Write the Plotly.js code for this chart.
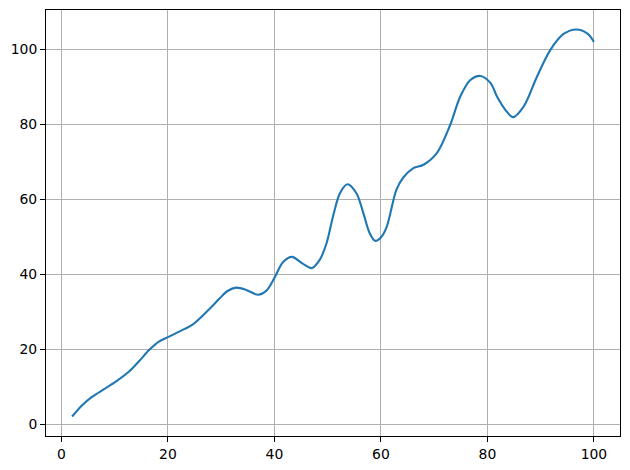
<!DOCTYPE html>
<html>
<head>
<meta charset="utf-8">
<script src="https://cdn.plot.ly/plotly-3.0.1.min.js"></script>
<style>html,body{margin:0;padding:0;background:#fff;}#chart{width:630px;height:470px;}</style>
</head>
<body>
<div id="chart"></div>
<script>
const xValues = [2, 3.8, 5.8, 8, 10.2, 12.7, 14.6, 16.5, 18.3, 20, 22.3, 24.7, 27.8, 29.7, 31.2, 32.8, 34.7, 36.9, 38.5, 40, 41.6, 43.3, 45.3, 47.0, 48.5, 49.8, 51.0, 52.3, 53.7, 55.4, 56.7, 57.9, 58.9, 60.0, 61.1, 62.9, 64.2, 66.1, 68.0, 70.5, 73.0, 74.9, 76.8, 78.7, 80.6, 81.8, 83.4, 84.8, 86.8, 89.3, 91.8, 94.3, 96.7, 98.8, 100];
const yValues = [2.0, 4.9, 7.3, 9.3, 11.3, 14.0, 16.8, 19.8, 22.0, 23.2, 24.8, 26.6, 30.7, 33.5, 35.5, 36.4, 35.8, 34.5, 35.6, 39.0, 43.2, 44.6, 42.8, 41.6, 43.8, 48.3, 55.4, 61.6, 64.0, 61.6, 56.3, 50.9, 48.9, 49.8, 52.7, 62.5, 65.8, 68.3, 69.2, 72.3, 79.8, 87.4, 91.8, 92.9, 91.0, 87.4, 83.8, 81.9, 84.7, 92.7, 99.8, 104.1, 105.3, 104.2, 102.0];

const trace = {
  x: xValues, y: yValues, type: 'scatter', mode: 'lines',
  line: {color: '#1f77b4', width: 2.1, shape: 'spline', smoothing: 0.9},
  hoverinfo: 'skip'
};

const axisCommon = {
  showline: true, mirror: true, linecolor: '#000', linewidth: 1,
  ticks: 'outside', ticklen: 5, tickcolor: '#000', tickwidth: 1,
  showgrid: true, gridcolor: '#b0b0b0', gridwidth: 1,
  zeroline: false,
  tickfont: {family: 'DejaVu Sans', size: 13.9, color: '#000'}
};

const layout = {
  width: 630, height: 470,
  margin: {l: 46, r: 10, t: 10, b: 34},
  paper_bgcolor: '#fff', plot_bgcolor: '#fff',
  showlegend: false,
  xaxis: Object.assign({}, axisCommon, {range: [-2.9, 104.9], tickvals: [0, 20, 40, 60, 80, 100]}),
  yaxis: Object.assign({}, axisCommon, {range: [-3.2, 110.5], tickvals: [0, 20, 40, 60, 80, 100]})
};

Plotly.newPlot('chart', [trace], layout, {displayModeBar: false, staticPlot: true});
</script>
</body>
</html>
